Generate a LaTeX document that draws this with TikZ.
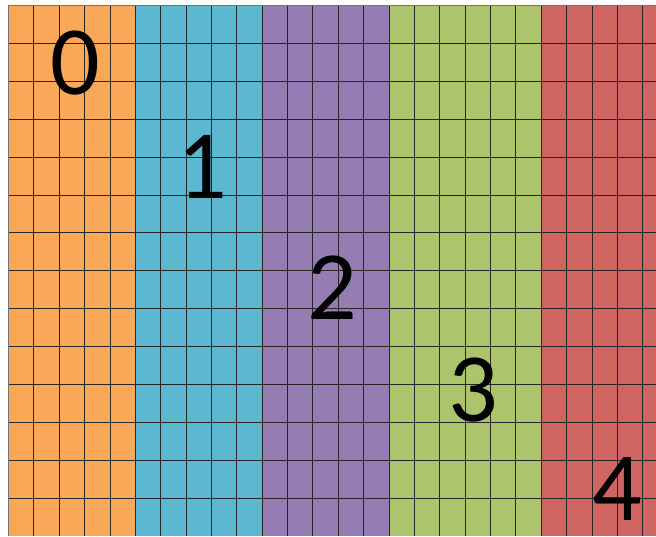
\documentclass[tikz,border=0pt]{standalone}
\usepackage{fontspec}
\setmainfont{Carlito}
\definecolor{corange}{HTML}{F9A858}
\definecolor{cblue}{HTML}{5BB8D0}
\definecolor{cpurple}{HTML}{957DB3}
\definecolor{cgreen}{HTML}{ACC46B}
\definecolor{cred}{HTML}{CE6560}
\begin{document}
\begin{tikzpicture}[x=1pt,y=-1pt,
  gridline/.style={draw=black!85,line width=0.9pt},
  bigdigit/.style={inner sep=0pt,font=\fontsize{98}{98}\selectfont}]
\useasboundingbox (0,0) rectangle (656,536);
\def\cw{25.37}
\def\rh{37.9}
\fill[corange] (8.5,5.5) rectangle (135.35,536);
\fill[cblue] (135.35,5.5) rectangle (262.2,536);
\fill[cpurple] (262.2,5.5) rectangle (389.05,536);
\fill[cgreen] (389.05,5.5) rectangle (541.3,536);
\fill[cred] (541.3,5.5) rectangle (656,536);
\foreach \i in {1,...,25} {
  \draw[gridline] ({8.5+\i*\cw},5.5) -- ({8.5+\i*\cw},536);
}
\foreach \j in {1,...,13} {
  \draw[gridline] (8.5,{5.5+\j*\rh}) -- (656,{5.5+\j*\rh});
}
\draw[draw=black!55,line width=1pt] (8.5,536) -- (8.5,5.5) -- (656,5.5);
\node[bigdigit] (d0) at (75.5,63.5) {0};
\node[bigdigit] (d1) at (202,167) {1};
\node[bigdigit] (d2) at (332,288) {2};
\node[bigdigit] (d3) at (473,390.5) {3};
\node[bigdigit] (d4) at (617.5,489) {4};
\end{tikzpicture}
\end{document}
